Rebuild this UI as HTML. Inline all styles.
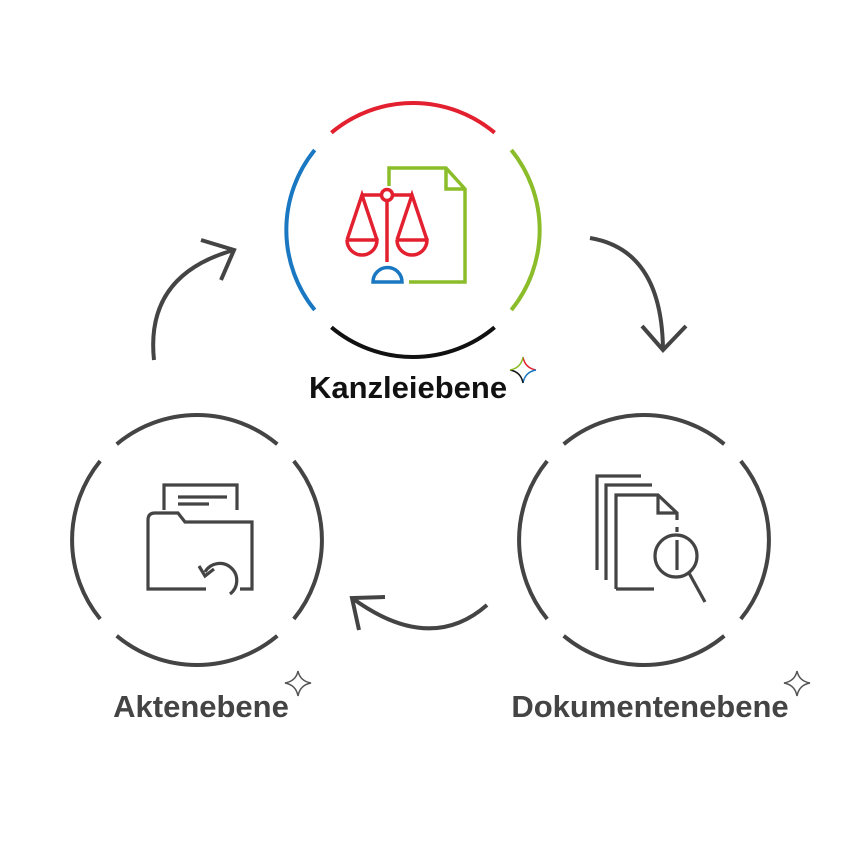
<!DOCTYPE html>
<html><head><style>
html,body{margin:0;padding:0;background:#fff;width:845px;height:845px;overflow:hidden}
</style></head><body>
<svg width="845" height="845" viewBox="0 0 845 845" xmlns="http://www.w3.org/2000/svg">
<g fill="none" stroke-width="4">
<path d="M331.4,132.7 A127,127 0 0 1 494.6,132.7" stroke="#e3202f"/>
<path d="M511.3,150.0 A127,127 0 0 1 511.3,310.0" stroke="#8bbd2a"/>
<path d="M494.6,327.3 A127,127 0 0 1 331.4,327.3" stroke="#111"/>
<path d="M314.7,310.0 A127,127 0 0 1 314.7,150.0" stroke="#1a78c2"/>
<g stroke="#444">
<path d="M116.7,444.2 A125,125 0 0 1 277.3,444.2"/>
<path d="M293.8,461.0 A125,125 0 0 1 293.8,619.0"/>
<path d="M277.3,635.8 A125,125 0 0 1 116.7,635.8"/>
<path d="M100.2,619.0 A125,125 0 0 1 100.2,461.0"/>
<path d="M563.7,444.2 A125,125 0 0 1 724.3,444.2"/>
<path d="M740.8,461.0 A125,125 0 0 1 740.8,619.0"/>
<path d="M724.3,635.8 A125,125 0 0 1 563.7,635.8"/>
<path d="M547.2,619.0 A125,125 0 0 1 547.2,461.0"/>
<path d="M590,238 Q662,250 663,350"/>
<path d="M642,326 L663,350 L686,326"/>
<path d="M154,360 Q145,275 234,250"/>
<path d="M201,240 L234,250 L221,280"/>
<path d="M487,605 Q430,655 352,598"/>
<path d="M385,597 L352,598 L359,630"/>
</g>
<g stroke="#8bbd2a" stroke-width="3.5">
<path d="M389,186 V168 H446 L465,189 V282 H409"/>
<path d="M446,168 V189 H465"/>
</g>
<g stroke="#e3202f" stroke-width="3.5">
<circle cx="387" cy="195" r="5.5"/>
<path d="M362,195 H381.5 M392.5,195 H412 M387,200.5 V262"/>
<path d="M347,240 L362,195 L377,240 M347,240 H377 A15,15 0 0 1 347,240"/>
<path d="M397,240 L412,195 L427,240 M397,240 H427 A15,15 0 0 1 397,240"/>
</g>
<path d="M373,282 H402 A14.5,14.5 0 0 0 373,282 Z" stroke="#1a78c2" stroke-width="3.5"/>
<g stroke="#444" stroke-width="3.2">
<path d="M164,510 V485 H237 V510"/>
<path d="M178,497 H227 M178,504 H209"/>
<path d="M206,589 H148 V520 Q148,513 155,513 H178 L185,522 H252 V589 H240"/>
<path d="M230,594 A17,17 0 1 0 205,572"/>
<path d="M199,566 L205,576 L214,569"/>
</g>
<g stroke="#444" stroke-width="3.2">
<path d="M597,570 V476 H641"/>
<path d="M606,580 V485 H652"/>
<path d="M616,589 V495 H658 L677,513 V520 M658,495 V513 H677"/>
<path d="M616,589 H654"/>
<circle cx="676" cy="556" r="21"/>
<path d="M689,573 L705,602"/>
<path d="M677,527 V532 M677,540 V570"/>
</g>
</g>
<g fill="none" stroke-width="1.5">
<path d="M523,357 Q525,368 536,370" stroke="#e3202f"/>
<path d="M536,370 Q525,372 523,383" stroke="#1a78c2"/>
<path d="M523,383 Q521,372 510,370" stroke="#111"/>
<path d="M510,370 Q521,368 523,357" stroke="#8bbd2a"/>
<path d="M298,671 Q300,681 311,683 Q300,685 298,696 Q296,685 285,683 Q296,681 298,671 Z" stroke="#555"/>
<path d="M797,671 Q799,681 810,683 Q799,685 797,696 Q795,685 784,683 Q795,681 797,671 Z" stroke="#555"/>
</g>
<g font-family="Liberation Sans, sans-serif" font-weight="bold" font-size="31" text-anchor="middle">
<text x="408" y="398" fill="#111">Kanzleiebene</text>
<text x="201" y="717" fill="#444">Aktenebene</text>
<text x="650" y="717" fill="#444">Dokumentenebene</text>
</g>
</svg>
</body></html>
